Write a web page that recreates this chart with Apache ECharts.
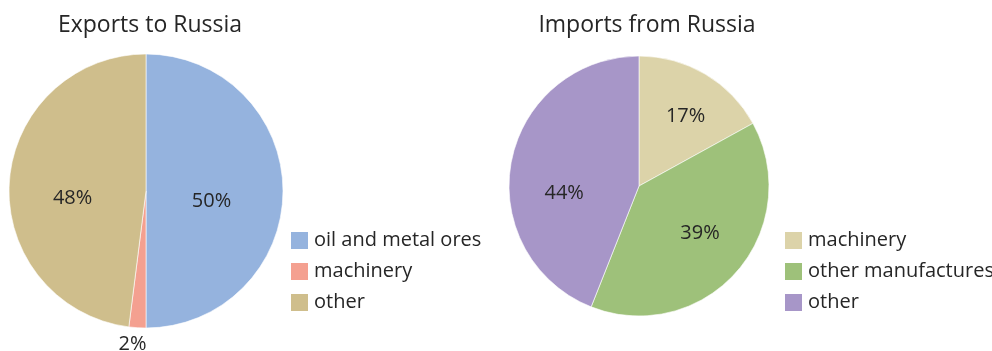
<!DOCTYPE html>
<html>
<head>
<meta charset="utf-8">
<script src="https://cdn.jsdelivr.net/npm/echarts@6/dist/echarts.min.js"></script>
<style>
  html, body { margin: 0; padding: 0; background: #ffffff; }
  #chart { width: 992px; height: 351px; }
</style>
</head>
<body>
<div id="chart"></div>
<script>
// Trade with Russia: share of exports and imports by product group (%)
const exportCategories = ['oil and metal ores', 'machinery', 'other'];
const exportValues = [50, 2, 48];
const exportColors = ['#95b3de', '#f4a090', '#cfbe8c'];

const importCategories = ['machinery', 'other manufactures', 'other'];
const importValues = [17, 39, 44];
const importColors = ['#dcd3a9', '#9ec17a', '#a796c8'];

const FONT = '"Open Sans", "Noto Sans", sans-serif';
const TEXT = '#262626';

// small nudges for the percentage labels, per [series][slice], in pixels
const labelNudge = [
  [[-6, 10], [2, 2], [-2, 12]],
  [[12, -11], [10, 2], [-8, 20]]
];

function pieData(names, values, colors) {
  return names.map((n, i) => ({ name: n, value: values[i], itemStyle: { color: colors[i] } }));
}

function legendData(names, colors) {
  return names.map((n, i) => ({ name: n, itemStyle: { color: colors[i] } }));
}

const exportData = pieData(exportCategories, exportValues, exportColors);
// the thin "machinery" slice carries its label just outside the pie
exportData[1].label = { position: 'outside', distanceToLabelLine: -8 };
exportData[1].labelLine = { show: false, length: 15, length2: 0 };

const legendCommon = {
  orient: 'vertical',
  padding: 0,
  itemWidth: 19,
  itemHeight: 19,
  itemGap: 10,
  icon: 'rect',
  selectedMode: false,
  textStyle: { fontFamily: FONT, fontSize: 20, color: TEXT }
};

const labelStyle = { show: true, position: 'inside', formatter: '{c}%', fontFamily: FONT, fontSize: 20, color: TEXT };

function nudge(p) {
  const n = labelNudge[p.seriesIndex][p.dataIndex];
  return { dx: n[0], dy: n[1] };
}

const chart = echarts.init(document.getElementById('chart'), null, { renderer: 'canvas' });
chart.setOption({
  backgroundColor: '#ffffff',
  animation: false,
  title: [
    { text: 'Exports to Russia', left: 145, top: 9, textAlign: 'center',
      textStyle: { fontFamily: FONT, fontSize: 23, fontWeight: 'normal', color: TEXT } },
    { text: 'Imports from Russia', left: 642, top: 9, textAlign: 'center',
      textStyle: { fontFamily: FONT, fontSize: 23, fontWeight: 'normal', color: TEXT } }
  ],
  legend: [
    Object.assign({}, legendCommon, { left: 289, top: 230, data: legendData(exportCategories, exportColors) }),
    Object.assign({}, legendCommon, { left: 783, top: 230, data: legendData(importCategories, importColors) })
  ],
  series: [
    {
      type: 'pie',
      center: [146, 191],
      radius: 137,
      startAngle: 90,
      clockwise: true,
      avoidLabelOverlap: false,
      itemStyle: { borderColor: '#ffffff', borderWidth: 0.6 },
      label: labelStyle,
      labelLayout: nudge,
      data: exportData
    },
    {
      type: 'pie',
      center: [639, 186],
      radius: 130,
      startAngle: 90,
      clockwise: true,
      avoidLabelOverlap: false,
      itemStyle: { borderColor: '#ffffff', borderWidth: 0.6 },
      label: labelStyle,
      labelLayout: nudge,
      data: pieData(importCategories, importValues, importColors)
    }
  ]
});
</script>
</body>
</html>
